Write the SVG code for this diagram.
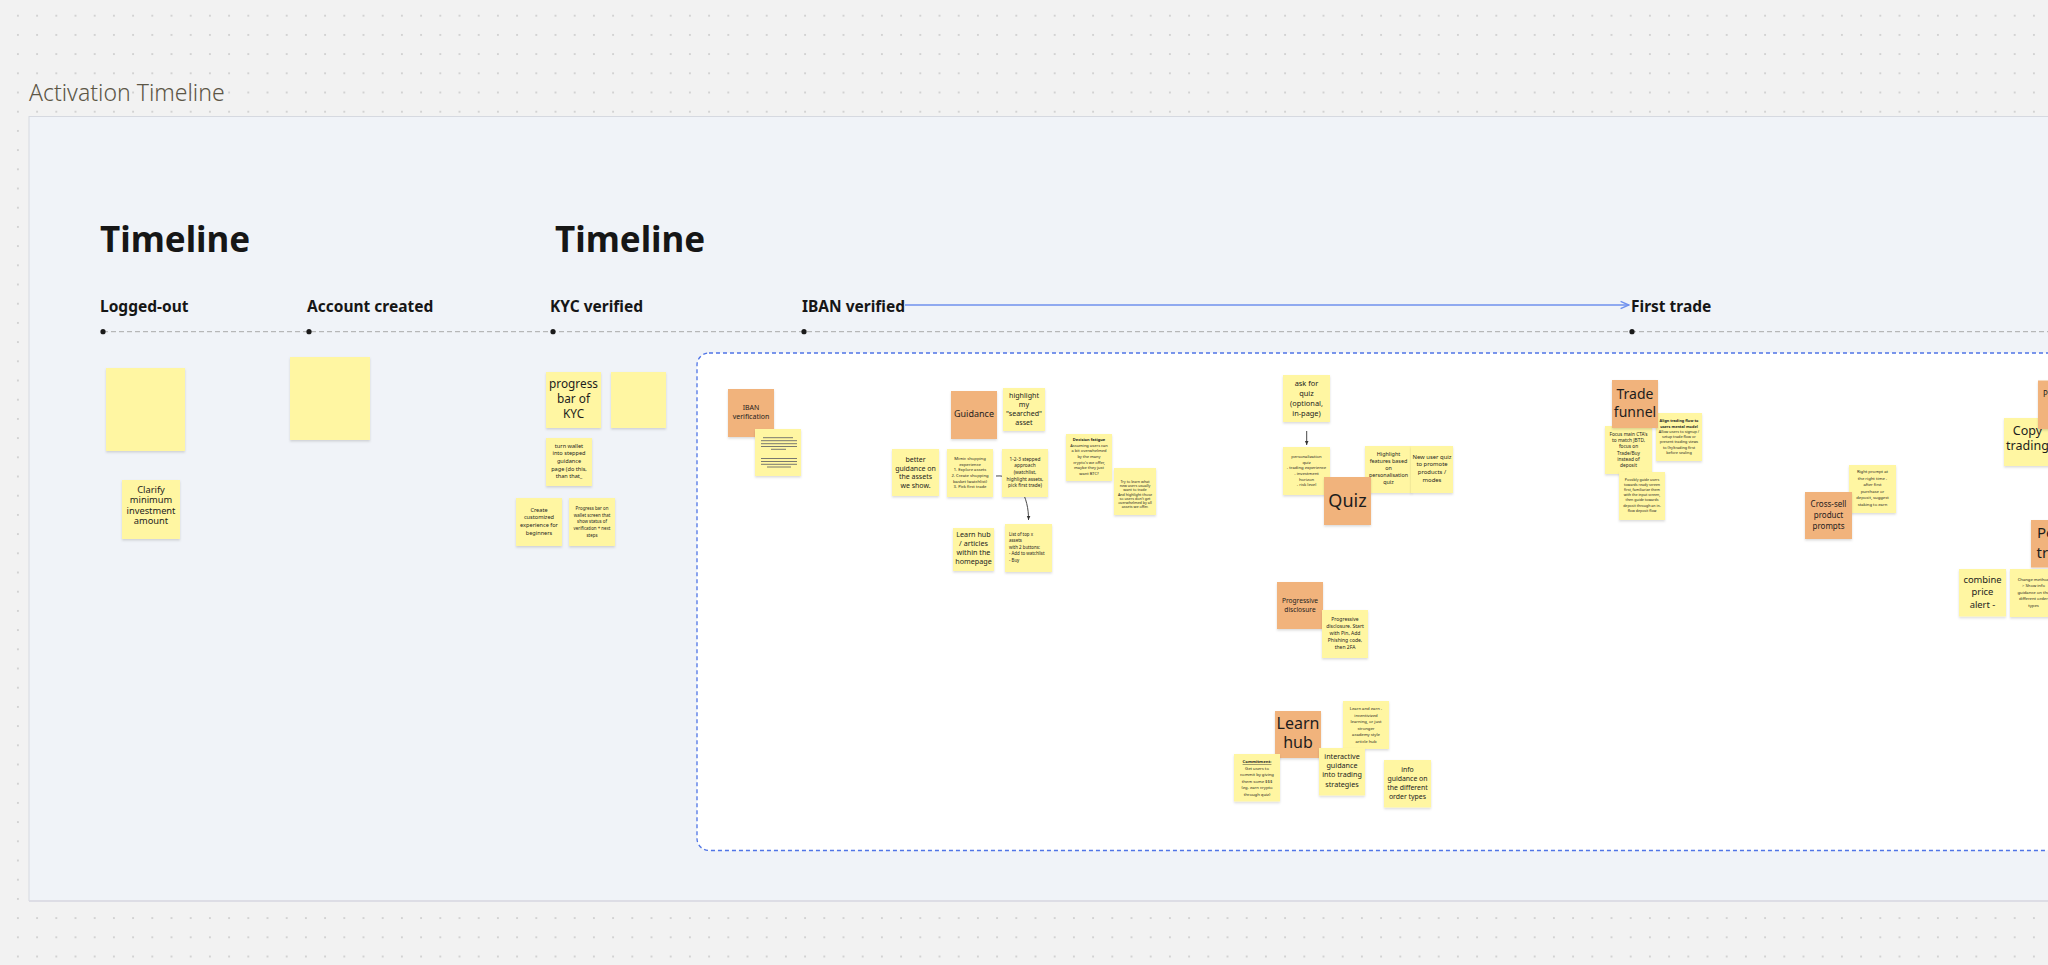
<svg xmlns="http://www.w3.org/2000/svg" width="2048" height="965" viewBox="0 0 2048 965">
<defs>
<pattern id="dots" x="8.3" y="6.1" width="19.2" height="19.2" patternUnits="userSpaceOnUse"><circle cx="9.6" cy="9.6" r="0.9" fill="#c4c4c4"/></pattern>
<filter id="sh" x="-20%" y="-20%" width="140%" height="150%"><feDropShadow dx="0" dy="1.5" stdDeviation="1.2" flood-color="#000" flood-opacity="0.14"/></filter>
<marker id="ab" viewBox="0 0 10 10" refX="9" refY="5" markerWidth="7" markerHeight="7" orient="auto"><path d="M1,1.5 L9,5 L1,8.5" fill="none" stroke="#6f90ee" stroke-width="1.4"/></marker>
<marker id="ad" viewBox="0 0 10 10" refX="9" refY="5" markerWidth="5" markerHeight="5" orient="auto"><path d="M0,1 L9,5 L0,9 Z" fill="#333"/></marker>
<style>
.ny{fill:#fff6a2;filter:url(#sh)}
.no{fill:#f1b37b;filter:url(#sh)}
.t{font-family:"Noto Sans","Liberation Sans",sans-serif;fill:#1d1d1d;text-anchor:middle}
.tl{font-family:"Noto Sans","Liberation Sans",sans-serif;fill:#1d1d1d;text-anchor:start}
.h1{font-family:"Noto Sans","Liberation Sans",sans-serif;font-weight:700;font-size:35px;fill:#161616}
.h2{font-family:"Noto Sans","Liberation Sans",sans-serif;font-weight:700;font-size:15.5px;fill:#161616}
.ln{stroke:#6a6a6a;stroke-width:0.9}
</style>
</defs>
<rect width="2048" height="965" fill="#f2f2f2"/>
<rect width="2048" height="965" fill="url(#dots)"/>
<text x="29" y="100.5" font-family="Noto Sans, Liberation Sans, sans-serif" font-weight="300" font-size="23" fill="#5c5646">Activation Timeline</text>
<g id="frame">
<rect x="29" y="116.5" width="2100" height="784" fill="#f0f3f8" stroke="#d6d9e0" stroke-width="1"/>
<line x1="29" y1="901" x2="2048" y2="901" stroke="#dddde5" stroke-width="2"/>
</g>
<g id="section">
<rect x="697" y="353" width="1420" height="497.5" rx="12" fill="#ffffff" stroke="#4f74e6" stroke-width="1.3" stroke-dasharray="4 3"/>
</g>
<g id="headings">
<text class="h1" x="100" y="252">Timeline</text>
<text class="h1" x="555" y="252">Timeline</text>
</g>
<g id="timeline">
<line x1="103" y1="331.7" x2="2048" y2="331.7" stroke="#a9a9a9" stroke-width="1" stroke-dasharray="5 3"/>
<circle cx="103" cy="331.7" r="2.6" fill="#1a1a1a"/>
<circle cx="309" cy="331.7" r="2.6" fill="#1a1a1a"/>
<circle cx="553" cy="331.7" r="2.6" fill="#1a1a1a"/>
<circle cx="804" cy="331.7" r="2.6" fill="#1a1a1a"/>
<circle cx="1632" cy="331.7" r="2.6" fill="#1a1a1a"/>
</g>
<g id="stage-logged-out"><text class="h2" x="100" y="312">Logged-out</text></g>
<g id="stage-account"><text class="h2" x="307" y="312">Account created</text></g>
<g id="stage-kyc"><text class="h2" x="550" y="312">KYC verified</text></g>
<g id="stage-iban"><text class="h2" x="802" y="312">IBAN verified</text></g>
<g id="stage-first-trade"><text class="h2" x="1631" y="312">First trade</text></g>
<g id="connectors">
<line x1="905" y1="305" x2="1629" y2="305" stroke="#6f90ee" stroke-width="1.5" marker-end="url(#ab)"/>
<path d="M996,476 C1018,474 1029,498 1028.5,520" fill="none" stroke="#333" stroke-width="0.9" marker-end="url(#ad)"/>
<line x1="1306.7" y1="431" x2="1306.7" y2="445" stroke="#333" stroke-width="0.9" marker-end="url(#ad)"/>
</g>
<g id="n-empty1"><rect class="ny" x="106" y="368" width="79" height="83"/></g>
<g id="n-empty2"><rect class="ny" x="290" y="357" width="80" height="83"/></g>
<g id="n-clarify"><rect class="ny" x="122" y="480" width="58" height="59"/>
<text class="t" font-size="9.3"><tspan x="151" y="492.7">Clarify</tspan><tspan x="151" y="503.2">minimum</tspan><tspan x="151" y="513.7">investment</tspan><tspan x="151" y="524.2">amount</tspan></text></g>
<g id="n-progress-kyc"><rect class="ny" x="546" y="372" width="55" height="56"/>
<text class="t" font-size="11.8"><tspan x="573.5" y="388.3">progress</tspan><tspan x="573.5" y="403.3">bar of</tspan><tspan x="573.5" y="418.3">KYC</tspan></text></g>
<g id="n-empty3"><rect class="ny" x="611" y="372" width="55" height="56"/></g>
<g id="n-turn-wallet"><rect class="ny" x="546" y="438" width="46" height="48"/>
<text class="t" font-size="5.6"><tspan x="569" y="447.7">turn wallet</tspan><tspan x="569" y="455.4">into stepped</tspan><tspan x="569" y="463">guidance</tspan><tspan x="569" y="470.7">page (do this,</tspan><tspan x="569" y="478.3">than that_</tspan></text></g>
<g id="n-create"><rect class="ny" x="516" y="498" width="46" height="48"/>
<text class="t" font-size="5.6"><tspan x="539" y="511.7">Create</tspan><tspan x="539" y="519.4">customized</tspan><tspan x="539" y="527">experience for</tspan><tspan x="539" y="534.7">beginners</tspan></text></g>
<g id="n-progress-wallet"><rect class="ny" x="569" y="498" width="46" height="48"/>
<text class="t" font-size="4.4"><tspan x="592" y="510">Progress bar on</tspan><tspan x="592" y="516.7">wallet screen that</tspan><tspan x="592" y="523.3">show status of</tspan><tspan x="592" y="530">verification + next</tspan><tspan x="592" y="536.7">steps</tspan></text></g>
<g id="n-iban-verification"><rect class="no" x="728" y="389" width="46" height="48"/>
<text class="t" font-size="7"><tspan x="751" y="410">IBAN</tspan><tspan x="751" y="419">verification</tspan></text></g>
<g id="n-lines"><rect class="ny" x="755" y="429" width="46" height="47"/>
<line class="ln" x1="763" y1="437.7" x2="793" y2="437.7"/><line class="ln" x1="761" y1="440.7" x2="797" y2="440.7"/><line class="ln" x1="761" y1="443.7" x2="797" y2="443.7"/><line class="ln" x1="761" y1="446.5" x2="797" y2="446.5"/><line class="ln" x1="771" y1="449.3" x2="786" y2="449.3"/>
<line class="ln" x1="761" y1="458.5" x2="797" y2="458.5"/><line class="ln" x1="761" y1="461.5" x2="797" y2="461.5"/><line class="ln" x1="761" y1="464.3" x2="797" y2="464.3"/><line class="ln" x1="767" y1="467" x2="791" y2="467"/></g>
<g id="n-guidance"><rect class="no" x="951" y="391" width="46" height="48"/>
<text class="t" font-size="9"><tspan x="974" y="417.3">Guidance</tspan></text></g>
<g id="n-highlight"><rect class="ny" x="1003" y="388" width="42" height="43"/>
<text class="t" font-size="7.1"><tspan x="1024" y="398.3">highlight</tspan><tspan x="1024" y="407.3">my</tspan><tspan x="1024" y="416.3">"searched"</tspan><tspan x="1024" y="425.3">asset</tspan></text></g>
<g id="n-better-guidance"><rect class="ny" x="892" y="449" width="47" height="47"/>
<text class="t" font-size="7"><tspan x="915.5" y="462.3">better</tspan><tspan x="915.5" y="470.8">guidance on</tspan><tspan x="915.5" y="479.3">the assets</tspan><tspan x="915.5" y="487.8">we show.</tspan></text></g>
<g id="n-mimic"><rect class="ny" x="947" y="449" width="46" height="48"/>
<text class="t" font-size="4.2"><tspan x="970" y="460">Mimic shopping</tspan><tspan x="970" y="465.7">experience</tspan><tspan x="970" y="471.3">1. Explore assets</tspan><tspan x="970" y="477">2. Create shopping</tspan><tspan x="970" y="482.7">basket (watchlist)</tspan><tspan x="970" y="488.3">3. Pick first trade</tspan></text></g>
<g id="n-123"><rect class="ny" x="1002" y="449" width="46" height="48"/>
<text class="t" font-size="4.8"><tspan x="1025" y="460.7">1-2-3 stepped</tspan><tspan x="1025" y="467.4">approach</tspan><tspan x="1025" y="474">(watchlist,</tspan><tspan x="1025" y="480.7">highlight assets,</tspan><tspan x="1025" y="487.3">pick first trade)</tspan></text></g>
<g id="n-learn-articles"><rect class="ny" x="953" y="528" width="41" height="43"/>
<text class="t" font-size="7.2"><tspan x="973.5" y="537.3">Learn hub</tspan><tspan x="973.5" y="546.3">/ articles</tspan><tspan x="973.5" y="555.3">within the</tspan><tspan x="973.5" y="564.3">homepage</tspan></text></g>
<g id="n-list-top"><rect class="ny" x="1005" y="524" width="47" height="48"/>
<text class="tl" font-size="4.4"><tspan x="1009" y="536">List of top x</tspan><tspan x="1009" y="542.4">assets</tspan><tspan x="1009" y="548.8">with 2 buttons:</tspan><tspan x="1009" y="555.2">- Add to watchlist</tspan><tspan x="1009" y="561.6">- Buy</tspan></text></g>
<g id="n-decision"><rect class="ny" x="1066" y="434" width="46" height="47"/>
<text class="t" font-size="4"><tspan x="1089" y="441" font-weight="700">Decision fatigue</tspan><tspan x="1089" y="446.7">Assuming users can</tspan><tspan x="1089" y="452.3">a bit overwhelmed</tspan><tspan x="1089" y="458">by the many</tspan><tspan x="1089" y="463.7">crypto's we offer,</tspan><tspan x="1089" y="469.3">maybe they just</tspan><tspan x="1089" y="475">want BTC?</tspan></text></g>
<g id="n-try-learn"><rect class="ny" x="1114" y="468" width="42" height="47"/>
<text class="t" font-size="3.7"><tspan x="1135" y="482.7">Try to learn what</tspan><tspan x="1135" y="487">new users usually</tspan><tspan x="1135" y="491.3">want to trade</tspan><tspan x="1135" y="495.5">And highlight those</tspan><tspan x="1135" y="499.8">so users don't get</tspan><tspan x="1135" y="504.1">overwhelmed by all</tspan><tspan x="1135" y="508.4">assets we offer.</tspan></text></g>
<g id="n-ask-quiz"><rect class="ny" x="1283" y="375" width="47" height="47"/>
<text class="t" font-size="7.4"><tspan x="1306.5" y="386">ask for</tspan><tspan x="1306.5" y="396">quiz</tspan><tspan x="1306.5" y="406">(optional,</tspan><tspan x="1306.5" y="416">in-page)</tspan></text></g>
<g id="n-personalization"><rect class="ny" x="1283" y="447" width="47" height="48"/>
<text class="t" font-size="4.2"><tspan x="1306.5" y="458.3">personalization</tspan><tspan x="1306.5" y="463.8">quiz</tspan><tspan x="1306.5" y="469.4">- trading experience</tspan><tspan x="1306.5" y="474.9">- investment</tspan><tspan x="1306.5" y="480.5">horizon</tspan><tspan x="1306.5" y="486">- risk level</tspan></text></g>
<g id="n-highlight-features"><rect class="ny" x="1365" y="446" width="47" height="47"/>
<text class="t" font-size="5.4"><tspan x="1388.5" y="455.7">Highlight</tspan><tspan x="1388.5" y="462.9">features based</tspan><tspan x="1388.5" y="470">on</tspan><tspan x="1388.5" y="477.2">personalisation</tspan><tspan x="1388.5" y="484.3">quiz</tspan></text></g>
<g id="n-new-user-quiz"><rect class="ny" x="1411" y="446" width="42" height="47"/>
<text class="t" font-size="5.9"><tspan x="1432" y="458.7">New user quiz</tspan><tspan x="1432" y="466.4">to promote</tspan><tspan x="1432" y="474.1">products /</tspan><tspan x="1432" y="481.8">modes</tspan></text></g>
<g id="n-quiz"><rect class="no" x="1324" y="477" width="47" height="48"/>
<text class="t" font-size="18"><tspan x="1347.5" y="506.7">Quiz</tspan></text></g>
<g id="n-focus"><rect class="ny" x="1605" y="426" width="47" height="48"/>
<text class="t" font-size="4.8"><tspan x="1628.5" y="435.7">Focus main CTA's</tspan><tspan x="1628.5" y="442">to match JBTD,</tspan><tspan x="1628.5" y="448.3">focus on</tspan><tspan x="1628.5" y="454.7">Trade/Buy</tspan><tspan x="1628.5" y="461">instead of</tspan><tspan x="1628.5" y="467.3">deposit</tspan></text></g>
<g id="n-align"><rect class="ny" x="1656" y="413" width="46" height="48"/>
<text class="t" font-size="3.8"><tspan x="1679" y="422.3" font-weight="700">Align trading flow to</tspan><tspan x="1679" y="427.6" font-weight="700">users mental model</tspan><tspan x="1679" y="432.9">Allow users to signup /</tspan><tspan x="1679" y="438.2">setup trade flow or</tspan><tspan x="1679" y="443.4">present trading views</tspan><tspan x="1679" y="448.7">to (hy)trading first</tspan><tspan x="1679" y="454">before sealing</tspan></text></g>
<g id="n-trade-funnel"><rect class="no" x="1612" y="380" width="46" height="48"/>
<text class="t" font-size="14"><tspan x="1635" y="399.3">Trade</tspan><tspan x="1635" y="416.7">funnel</tspan></text></g>
<g id="n-possibly"><rect class="ny" x="1619" y="472" width="46" height="48"/>
<text class="t" font-size="3.6"><tspan x="1642" y="480.7">Possibly guide users</tspan><tspan x="1642" y="485.9">towards ready screen</tspan><tspan x="1642" y="491">first, familiarize them</tspan><tspan x="1642" y="496.2">with the input screen,</tspan><tspan x="1642" y="501.4">then guide towards</tspan><tspan x="1642" y="506.5">deposit through an in-</tspan><tspan x="1642" y="511.7">flow deposit flow</tspan></text></g>
<g id="n-right-prompt"><rect class="ny" x="1849" y="465" width="47" height="48"/>
<text class="t" font-size="4.2"><tspan x="1872.5" y="473.3">Right prompt at</tspan><tspan x="1872.5" y="479.8">the right time -</tspan><tspan x="1872.5" y="486.3">after first</tspan><tspan x="1872.5" y="492.7">purchase or</tspan><tspan x="1872.5" y="499.2">deposit, suggest</tspan><tspan x="1872.5" y="505.7">staking to earn</tspan></text></g>
<g id="n-cross-sell"><rect class="no" x="1805" y="492" width="47" height="47"/>
<text class="t" font-size="8"><tspan x="1828.5" y="506.7">Cross-sell</tspan><tspan x="1828.5" y="517.9">product</tspan><tspan x="1828.5" y="529">prompts</tspan></text></g>
<g id="n-copy-trading"><rect class="ny" x="2004" y="418" width="47" height="48"/>
<text class="t" font-size="12.5"><tspan x="2027.5" y="435">Copy</tspan><tspan x="2027.5" y="450">trading</tspan></text></g>
<g id="n-p-orange"><rect class="no" x="2038" y="380.5" width="47" height="48.5"/>
<text class="tl" font-size="8"><tspan x="2043" y="397.3">P</tspan></text></g>
<g id="n-pe-orange"><rect class="no" x="2031" y="520" width="47" height="47.5"/>
<text class="tl" font-size="15"><tspan x="2037" y="538.3">Pe</tspan><tspan x="2036.5" y="558.3">tr</tspan></text></g>
<g id="n-combine"><rect class="ny" x="1959" y="569" width="47" height="47.5"/>
<text class="t" font-size="9.4"><tspan x="1982.5" y="582.7">combine</tspan><tspan x="1982.5" y="595.3">price</tspan><tspan x="1982.5" y="608">alert -</tspan></text></g>
<g id="n-change-method"><rect class="ny" x="2010" y="569" width="47" height="48"/>
<text class="t" font-size="4.2"><tspan x="2033.5" y="580.7">Change method</tspan><tspan x="2033.5" y="587.2">&gt; Show info</tspan><tspan x="2033.5" y="593.7">guidance on the</tspan><tspan x="2033.5" y="600.2">different order</tspan><tspan x="2033.5" y="606.7">types</tspan></text></g>
<g id="n-prog-disc-o"><rect class="no" x="1277" y="582" width="46" height="47"/>
<text class="t" font-size="6.6"><tspan x="1300" y="603.3">Progressive</tspan><tspan x="1300" y="611.7">disclosure</tspan></text></g>
<g id="n-prog-disc"><rect class="ny" x="1322" y="610" width="46" height="48"/>
<text class="t" font-size="5"><tspan x="1345" y="620.7">Progressive</tspan><tspan x="1345" y="627.9">disclosure. Start</tspan><tspan x="1345" y="635">with Pin, Add</tspan><tspan x="1345" y="642.2">Phishing code,</tspan><tspan x="1345" y="649.3">then 2FA</tspan></text></g>
<g id="n-learn-hub"><rect class="no" x="1275" y="711" width="46" height="47"/>
<text class="t" font-size="16"><tspan x="1298" y="729.3">Learn</tspan><tspan x="1298" y="748.3">hub</tspan></text></g>
<g id="n-learn-earn"><rect class="ny" x="1343" y="701" width="46" height="48"/>
<text class="t" font-size="4.2"><tspan x="1366" y="710">Learn and earn -</tspan><tspan x="1366" y="716.5">incentivized</tspan><tspan x="1366" y="723.1">learning, or just</tspan><tspan x="1366" y="729.6">stronger</tspan><tspan x="1366" y="736.2">academy style</tspan><tspan x="1366" y="742.7">article hub</tspan></text></g>
<g id="n-commitment"><rect class="ny" x="1234" y="754" width="46" height="47.5"/>
<text class="t" font-size="4.2"><tspan x="1257" y="763.3" font-weight="700" text-decoration="underline">Commitment:</tspan><tspan x="1257" y="769.8">Get users to</tspan><tspan x="1257" y="776.2">commit by giving</tspan><tspan x="1257" y="782.7">them some $$$</tspan><tspan x="1257" y="789.2">(eg. earn crypto</tspan><tspan x="1257" y="795.7">through quiz)</tspan></text></g>
<g id="n-interactive"><rect class="ny" x="1319" y="748" width="46" height="47.5"/>
<text class="t" font-size="7.2"><tspan x="1342" y="759">interactive</tspan><tspan x="1342" y="768.2">guidance</tspan><tspan x="1342" y="777.4">into trading</tspan><tspan x="1342" y="786.6">strategies</tspan></text></g>
<g id="n-info-guidance"><rect class="ny" x="1384" y="760" width="47" height="47.5"/>
<text class="t" font-size="6.9"><tspan x="1407.5" y="772.3">info</tspan><tspan x="1407.5" y="781.1">guidance on</tspan><tspan x="1407.5" y="789.9">the different</tspan><tspan x="1407.5" y="798.7">order types</tspan></text></g>
</svg>
